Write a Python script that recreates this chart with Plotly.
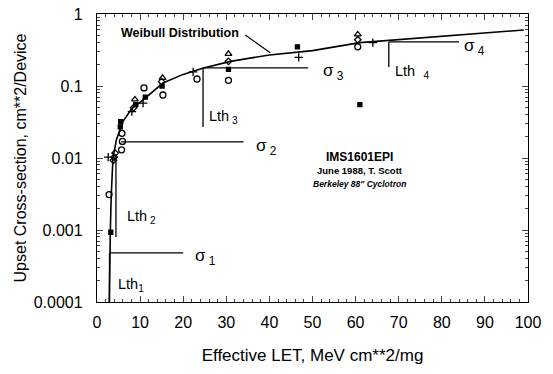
import math
import plotly.graph_objects as go

# Weibull fit through the heavy-ion upset data (LET, cross-section)
fit_let = [2.85, 2.9, 3.0, 3.1, 3.3, 3.7, 4.5, 6.0, 8.0, 10.7, 15.3, 20, 24.7, 31, 40, 50, 61, 70, 84, 99]
fit_sigma = [0.0001, 0.0003, 0.0006, 0.001, 0.003, 0.0100, 0.018, 0.032, 0.048, 0.064,
             0.11, 0.145, 0.178, 0.22, 0.27, 0.31, 0.40, 0.44, 0.51, 0.60]

# Measured cross-sections, grouped by run symbol
circle_let = [2.8, 5.8, 5.9, 5.7, 10.9, 15.3, 23.2, 30.5, 60.5]
circle_sigma = [0.0031, 0.022, 0.017, 0.013, 0.094, 0.075, 0.125, 0.12, 0.35]

plus_let = [2.6, 8.1, 10.7, 22.3, 46.8, 64.0]
plus_sigma = [0.0103, 0.044, 0.058, 0.157, 0.25, 0.40]

tri_let = [8.8, 15.2, 30.5, 60.5]
tri_sigma = [0.065, 0.13, 0.28, 0.52]

square_let = [3.2, 5.5, 5.4, 11.2, 9.0, 15.1, 30.5, 46.5, 61.0]
square_sigma = [0.00093, 0.032, 0.027, 0.07, 0.055, 0.10, 0.17, 0.35, 0.055]

diamond_let = [4.0, 4.2, 3.8, 15.0, 30.5, 60.5, 8.5]
diamond_sigma = [0.0103, 0.0117, 0.0093, 0.115, 0.22, 0.44, 0.05]

# Threshold LET (vertical) and saturation-step (horizontal) guide lines
lth_x = [2.9, 4.4, 24.6, 67.7]
lth_lo = [0.0001, 0.0008, 0.027, 0.184]
lth_hi = [0.00048, 0.0105, 0.178, 0.41]

sig_y = [0.00048, 0.0167, 0.178, 0.41]
sig_x0 = [3.0, 5.6, 24.6, 67.7]
sig_x1 = [20.0, 34.0, 49.0, 84.0]

# Label positions for the guides
sig_lab_x = [22.3, 36.5, 51.9, 84.7]
sig_lab_y = [0.00042, 0.0142, 0.157, 0.35]
lth_lab_x = [4.4, 6.5, 25.6, 68.6]
lth_lab_y = [0.00017, 0.0015, 0.037, 0.157]
lth_lab_txt = ["Lth<sub>1</sub>", "Lth<sub> 2</sub>", "Lth<sub> 3</sub>", "Lth<sub>   4</sub>"]

# Curve label and its leader line
curve_label = "Weibull Distribution"
curve_label_pos = (33.3, 0.545)
leader_x = [34.4, 40.2]
leader_y = [0.51, 0.29]

# Test-run notes
note_lines = ["<b>IMS1601EPI</b>", "<b>June 1988, T. Scott</b>", "<b><i>Berkeley 88\" Cyclotron</i></b>"]
note_x = 61.0
note_y = [0.0103, 0.0066, 0.0044]
note_size = [12, 9.5, 8.5]

y_tickvals = [0.0001, 0.001, 0.01, 0.1, 1]
y_ticktext = ["0.0001", "0.001", "0.01", "0.1", "1"]
x_tickvals = [0, 10, 20, 30, 40, 50, 60, 70, 80, 90, 100]

FONT = "Liberation Sans, Arial, sans-serif"

fig = go.Figure()

fig.add_trace(go.Scatter(x=fit_let, y=fit_sigma, mode="lines",
                         line=dict(color="black", width=1.6), hoverinfo="skip"))

marker_sets = [
    (circle_let, circle_sigma, "circle-open", 6),
    (plus_let, plus_sigma, "cross-thin-open", 6),
    (tri_let, tri_sigma, "triangle-up-open", 6),
    (square_let, square_sigma, "square", 4),
    (diamond_let, diamond_sigma, "diamond-open", 5),
]
for xs, ys, sym, sz in marker_sets:
    fig.add_trace(go.Scatter(x=xs, y=ys, mode="markers",
                             marker=dict(symbol=sym, size=sz, color="black",
                                         line=dict(color="black", width=1.3))))

shapes = []
for x, lo, hi in zip(lth_x, lth_lo, lth_hi):
    shapes.append(dict(type="line", xref="x", yref="y", x0=x, x1=x, y0=lo, y1=hi,
                       line=dict(color="black", width=1.3)))
for y, a, b in zip(sig_y, sig_x0, sig_x1):
    shapes.append(dict(type="line", xref="x", yref="y", x0=a, x1=b, y0=y, y1=y,
                       line=dict(color="black", width=1.3)))
shapes.append(dict(type="line", xref="x", yref="y",
                   x0=leader_x[0], x1=leader_x[1], y0=leader_y[0], y1=leader_y[1],
                   line=dict(color="black", width=1.2)))

# annotations on a log axis take log10 positions
annotations = []
for i, (x, y) in enumerate(zip(sig_lab_x, sig_lab_y)):
    annotations.append(dict(x=x, y=math.log10(y), xref="x", yref="y",
                            yanchor="middle", xanchor="left",
                            text="σ<sub> %d</sub>" % (i + 1), showarrow=False,
                            font=dict(family=FONT, size=17, color="black")))
for x, y, t in zip(lth_lab_x, lth_lab_y, lth_lab_txt):
    annotations.append(dict(x=x, y=math.log10(y), xref="x", yref="y",
                            yanchor="middle", xanchor="left",
                            text=t, showarrow=False,
                            font=dict(family=FONT, size=14.5, color="black")))
annotations.append(dict(x=curve_label_pos[0], y=math.log10(curve_label_pos[1]),
                        xref="x", yref="y", xanchor="right", yanchor="middle",
                        text="<b>%s</b>" % curve_label, showarrow=False,
                        font=dict(family=FONT, size=12.5, color="black")))
for t, y, s in zip(note_lines, note_y, note_size):
    annotations.append(dict(x=note_x, y=math.log10(y), xref="x", yref="y",
                            xanchor="center", yanchor="middle",
                            text=t, showarrow=False,
                            font=dict(family=FONT, size=s, color="black")))

fig.update_layout(
    width=553, height=374,
    margin=dict(l=97, r=25, t=14, b=72, autoexpand=False),
    paper_bgcolor="white", plot_bgcolor="white",
    showlegend=False,
    font=dict(family=FONT, size=16, color="black"),
    shapes=shapes, annotations=annotations,
    xaxis=dict(range=[0, 100], tickvals=x_tickvals, ticks="inside", ticklen=6,
               showline=True, linecolor="black", linewidth=1.3, mirror="ticks",
               showgrid=False, zeroline=False, automargin=False,
               minor=dict(ticks="inside", ticklen=3, dtick=2, showgrid=False),
               tickfont=dict(size=16), ticklabelstandoff=6,
               title=dict(text="Effective LET, MeV cm**2/mg", font=dict(size=17), standoff=18)),
    yaxis=dict(type="log", range=[-4, 0], tickvals=y_tickvals, ticktext=y_ticktext,
               ticks="inside", ticklen=6,
               showline=True, linecolor="black", linewidth=1.3, mirror="ticks",
               showgrid=False, zeroline=False, automargin=False,
               minor=dict(ticks="inside", ticklen=3, dtick="D1", showgrid=False),
               tickfont=dict(size=16), ticklabelstandoff=10,
               title=dict(text="Upset Cross-section, cm**2/Device", font=dict(size=16), standoff=3)),
)

fig.write_html("out.html")
